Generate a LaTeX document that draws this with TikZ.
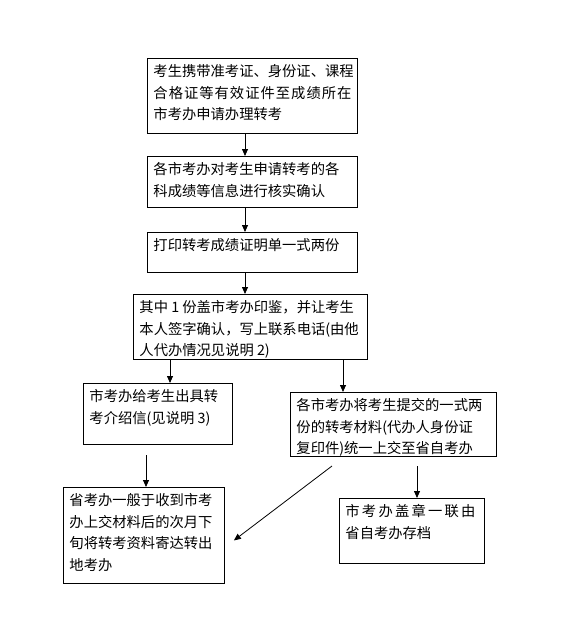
\documentclass[tikz,border=0pt]{standalone}
\usepackage{fontspec}
\usepackage{tikz}
\usetikzlibrary{arrows.meta}
\newfontfamily\cjk{Noto Sans CJK SC}
\tikzstyle{flowbox} = [draw=black, line width=0.9pt, rectangle,
inner xsep=6pt, inner ysep=6pt, font=\cjk\fontsize{14.3}{21.5}\selectfont]
\tikzstyle{flowarrow} = [draw=black, line width=0.8pt, -{Triangle[length=7pt,width=6pt]}]

\begin{document}
\begin{tikzpicture}[x=1pt, y=-1pt]
        \path[use as bounding box] (0,0) rectangle (561,643);
        % main column
        \node [flowbox, anchor=north west] (apply) at (147,58) {%
            \begin{minipage}[t][63pt][t]{198pt}
                考生携带准考证、身份证、课程\\
                \makebox[198pt][s]{合\hfill 格\hfill 证\hfill 等\hfill 有\hfill 效\hfill 证\hfill 件\hfill 至\hfill 成\hfill 绩\hfill 所\hfill 在}\\
                市考办申请办理转考
            \end{minipage}
        };
        \node [flowbox, anchor=north west] (verify) at (147,156) {%
            \begin{minipage}[t][39pt][t]{198pt}
                各市考办对考生申请转考的各\\
                科成绩等信息进行核实确认
            \end{minipage}
        };
        \node [flowbox, anchor=north west] (print) at (147,232) {%
            \begin{minipage}[t][28pt][t]{198pt}
                打印转考成绩证明单一式两份
            \end{minipage}
        };
        \node [flowbox, anchor=north west] (seal) at (133,294) {%
            \begin{minipage}[t][53pt][t]{222pt}
                其中 1 份盖市考办印鉴，并让考生\\
                本人签字确认，写上联系电话(由他\\
                人代办情况见说明 2)
            \end{minipage}
        };
        % two branches
        \node [flowbox, anchor=north west] (letter) at (83,383) {%
            \begin{minipage}[t][49pt][t]{137pt}
                市考办给考生出具转\\
                考介绍信(见说明 3)
            \end{minipage}
        };
        \node [flowbox, anchor=north west] (submit) at (290,392) {%
            \begin{minipage}[t][52pt][t]{194pt}
                各市考办将考生提交的一式两\\
                份的转考材料(代办人身份证\\
                复印件)统一上交至省自考办
            \end{minipage}
        };
        \node [flowbox, anchor=north west] (mail) at (63,487) {%
            \begin{minipage}[t][84pt][t]{149pt}
                省考办一般于收到市考\\
                办上交材料后的次月下\\
                旬将转考资料寄达转出\\
                地考办
            \end{minipage}
        };
        \node [flowbox, anchor=north west] (archive) at (339,498) {%
            \begin{minipage}[t][53pt][t]{133pt}
                \makebox[130pt][s]{市\hfill 考\hfill 办\hfill 盖\hfill 章\hfill 一\hfill 联\hfill 由}\\
                省自考办存档
            \end{minipage}
        };
        % connectors
        \coordinate (mainx) at (245,0);
        \coordinate (leftx) at (170,0);
        \coordinate (rightx) at (343,0);
        \coordinate (mailtop) at (146,455);
        \coordinate (archtop) at (417,466);
        \coordinate (diagtop) at (332,466);
        \draw [flowarrow] (mainx |- apply.south) -- (mainx |- verify.north);
        \draw [flowarrow] (mainx |- verify.south) -- (mainx |- print.north);
        \draw [flowarrow] (mainx |- print.south) -- (mainx |- seal.north);
        \draw [flowarrow] (leftx |- seal.south) -- (leftx |- letter.north);
        \draw [flowarrow] (rightx |- seal.south) -- (rightx |- submit.north);
        \draw [flowarrow] (mailtop) -- (mailtop |- mail.north);
        \draw [flowarrow] (archtop) -- (archtop |- archive.north);
        \draw [flowarrow] (diagtop) -- ([xshift=9pt, yshift=-5pt]mail.east);
    \end{tikzpicture}
\end{document}
